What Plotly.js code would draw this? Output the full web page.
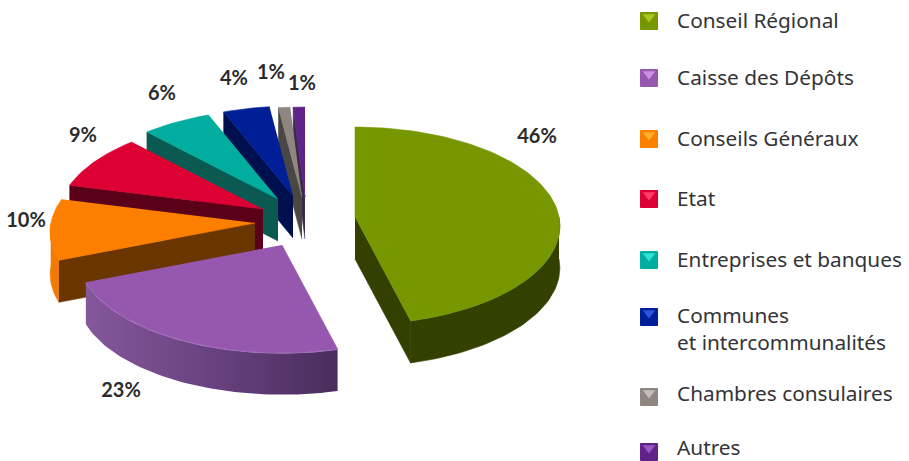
<!DOCTYPE html>
<html>
<head>
<meta charset="utf-8">
<script src="https://cdn.plot.ly/plotly-3.0.1.min.js"></script>
<style>html,body{margin:0;padding:0;background:#fff}#chart{width:909px;height:461px}</style>
</head>
<body>
<div id="chart"></div>
<script>
// ---- data ----
const categories = ["Conseil Régional","Caisse des Dépôts","Conseils Généraux","Etat","Entreprises et banques","Communes<br>et intercommunalités","Chambres consulaires","Autres"];
const values = [46,23,10,9,6,4,1,1];

// ---- styles ----
const topColors  = ["#769700","#9558ae","#fd7f00","#dc0033","#00ad9f","#001f96","#8f8681","#5f2389"];
const wallColors = ["#334000","#6a4480","#6b3500","#5b0019","#0b5a52","#00104e","#4a4644","#3a2a48"];
const arcWallColors = ["#334000",null,"#f27a00","#5b0019","#0b5a52","#00104e","#4a4644","#3a2a48"];
const legendLight = ["#a6c81e","#cc8fe6","#ffb02e","#ff3d6b","#2fe3d4","#2a55dd","#c4bcb6","#9a55c8"];

// ---- geometry of the tilted, exploded pie (pull of each slice from the pie centre, in px) ----
const centre = {x:355, y:217};
const radiusX = 204, radiusY = 98, persp = 0.09, depth = 42;
const pullX = [0,-73,-100,-92,-77,-62,-53,-50];
const pullY = [0,28,6,-8,-18,-21,-20,-20];
const labelX = [537,121,26,83,162,234,271,302];
const labelY = [138,392,222,137,95,80,74,85];
const legendMarkerX = 649;
const legendMarkerY = [21,78,139,199,260,317,397,452];
const legendTextX = 677;
const legendTextY = [23,80,141,201,262,331,396,450];

const rad = d => d*Math.PI/180;
function project(i, deg, dz){
  const s = Math.sin(rad(deg)), c = Math.cos(rad(deg)), p = 1/(1+persp*c);
  return [centre.x+pullX[i]+radiusX*s*p, centre.y+pullY[i]-radiusY*c*p+dz];
}
function apex(i,dz){ return [centre.x+pullX[i], centre.y+pullY[i]+dz]; }
function arc(i,a,b,dz){
  const pts=[]; const n=Math.max(2,Math.ceil(Math.abs(b-a)/1.5));
  for(let k=0;k<=n;k++) pts.push(project(i,a+(b-a)*k/n,dz));
  return pts;
}
function poly(pts,color,name,extra){
  return Object.assign({type:"scatter",mode:"lines",name:name,
    x:pts.map(p=>p[0]),y:pts.map(p=>p[1]),fill:"toself",fillcolor:color,
    line:{color:color,width:0.6},hoverinfo:"skip",showlegend:false},extra||{});
}

const total = values.reduce((a,b)=>a+b,0);
const starts=[]; let acc=0;
values.forEach(v=>{starts.push(acc/total*360); acc+=v;});

const traces=[];
for(let i=values.length-1;i>=0;i--){
  const a=starts[i], b=a+values[i]/total*360, name=categories[i].replace("<br>"," ");
  // visible radial walls
  if(Math.sin(rad(a))<-1e-6){
    traces.push(poly([apex(i,0),project(i,a,0),project(i,a,depth),apex(i,depth)],wallColors[i],name));
  }
  if(Math.sin(rad(b))>1e-6){
    traces.push(poly([apex(i,0),project(i,b,0),project(i,b,depth),apex(i,depth)],wallColors[i],name));
  }
  // outer rim wall on the viewer's side
  const l=Math.max(a,90), h=Math.min(b,270);
  if(l<h){
    const pts=arc(i,l,h,0).concat(arc(i,h,l,depth));
    if(arcWallColors[i]){
      traces.push(poly(pts,arcWallColors[i],name));
    } else {
      traces.push(poly(pts,"#6a4480",name,{
        line:{width:0,color:"#6a4480"},
        fillgradient:{type:"horizontal",colorscale:[[0,"#85579b"],[0.5,"#684280"],[1,"#4a2d5c"]]}
      }));
      const rim=arc(i,l,h,0.5);
      traces.push({type:"scatter",mode:"lines",x:rim.map(p=>p[0]),y:rim.map(p=>p[1]),
        line:{color:"#b583cf",width:1},hoverinfo:"skip",showlegend:false});
    }
  }
  // top face
  traces.push(poly([apex(i,0)].concat(arc(i,a,b,0)),topColors[i],name));
}

// percentage labels
traces.push({type:"scatter",mode:"text",x:labelX,y:labelY,
  text:values.map(v=>v+"%"),textposition:"middle center",
  textfont:{family:"Lato, 'Open Sans', sans-serif",size:20,color:"#2b2b2e",weight:700},
  hoverinfo:"skip",showlegend:false});

// legend
traces.push({type:"scatter",mode:"markers",x:legendMarkerY.map(()=>legendMarkerX),y:legendMarkerY,
  marker:{symbol:"square",size:17,color:topColors,line:{width:1,color:topColors}},hoverinfo:"skip",showlegend:false});
traces.push({type:"scatter",mode:"markers",x:legendMarkerY.map(()=>legendMarkerX),y:legendMarkerY.map(v=>v-4),
  marker:{symbol:"triangle-down",size:11,color:legendLight,line:{width:0}},hoverinfo:"skip",showlegend:false});
traces.push({type:"scatter",mode:"text",x:legendMarkerY.map(()=>legendTextX),y:legendTextY,
  text:categories,textposition:"middle right",
  textfont:{family:"'Noto Sans', sans-serif",size:20.8,color:"#333338"},
  hoverinfo:"skip",showlegend:false});

const layout={
  width:909,height:461,margin:{l:0,r:0,t:0,b:0},
  paper_bgcolor:"#ffffff",plot_bgcolor:"#ffffff",showlegend:false,
  xaxis:{range:[0,909],visible:false,fixedrange:true},
  yaxis:{range:[461,0],visible:false,fixedrange:true}
};
Plotly.newPlot("chart",traces,layout,{displayModeBar:false,staticPlot:true});
</script>
</body>
</html>
